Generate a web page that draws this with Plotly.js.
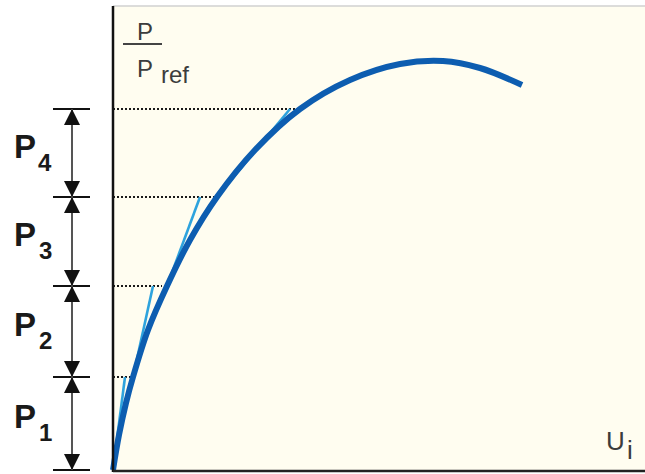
<!DOCTYPE html>
<html>
<head>
<meta charset="utf-8">
<script src="https://cdn.plot.ly/plotly-3.0.1.min.js"></script>
<style>html,body{margin:0;padding:0;background:#fff;}#chart{width:645px;height:474px;}</style>
</head>
<body>
<div id="chart"></div>
<script>
// Level boundaries of P/Pref (bottom to top)
const levels = [0, 0.93, 1.84, 2.73, 3.61];
const levelLabels = ['1', '2', '3', '4'];
// Main curve P/Pref versus U_i
const curveU = [0, 0.06, 0.13, 0.20, 0.35, 0.54, 0.77, 1.04, 1.42, 1.87, 2.37, 2.87, 3.30, 3.67, 4.09];
const curveP = [0, 0.35, 0.67, 0.93, 1.40, 1.84, 2.30, 2.73, 3.20, 3.61, 3.90, 4.06, 4.09, 4.02, 3.85];
// Where each dotted level line meets the curve (levels 1..4)
const dotEndU = [0.22, 0.49, 1.02, 1.90];
// Tangent segments: start (U,P) on curve, end U at the next level
const tanStartU = [0, 0.20, 0.54, 1.04];
const tanStartP = [0, 0.93, 1.84, 2.73];
const tanEndU = [0.12, 0.40, 0.87, 1.77];

const xMax = 5.32, yTop = 4.64;
const tickX = [-0.60, -0.23], arrowX = -0.41;
const txt = '#3c3c3c';
const fam = 'Liberation Sans, Arial, sans-serif';

const traces = [];
// dotted level lines
for (let i = 0; i < 4; i++) {
  traces.push({x: [0, dotEndU[i]], y: [levels[i+1], levels[i+1]], mode: 'lines',
    line: {color: '#1a1a1a', width: 2, dash: '2px,2px'}, hoverinfo: 'skip'});
}
// tangents
for (let i = 0; i < 4; i++) {
  traces.push({x: [tanStartU[i], tanEndU[i]], y: [tanStartP[i], levels[i+1]], mode: 'lines',
    line: {color: '#2ea3dd', width: 2.6}, hoverinfo: 'skip'});
}
// main curve
traces.push({x: curveU, y: curveP, mode: 'lines', line: {color: '#0d5db0', width: 6, shape: 'spline', smoothing: 1}, hoverinfo: 'skip'});

// left side: level ticks
const tx = [], ty = [];
levels.forEach(v => { tx.push(tickX[0], tickX[1], null); ty.push(v, v, null); });
traces.push({x: tx, y: ty, mode: 'lines', line: {color: '#111', width: 2.2}, hoverinfo: 'skip'});
// shaft
traces.push({x: [arrowX, arrowX], y: [levels[0], levels[4]], mode: 'lines', line: {color: '#555', width: 2}, hoverinfo: 'skip'});
// arrowheads
traces.push({x: levels.slice(1).map(() => arrowX), y: levels.slice(1), mode: 'markers',
  marker: {symbol: 'arrow-up', size: 16, color: '#111'}, hoverinfo: 'skip'});
traces.push({x: levels.slice(0, 4).map(() => arrowX), y: levels.slice(0, 4), mode: 'markers',
  marker: {symbol: 'arrow-down', size: 16, color: '#111'}, hoverinfo: 'skip'});

const annotations = [];
for (let i = 0; i < 4; i++) {
  const mid = (levels[i] + levels[i+1]) / 2;
  annotations.push({x: -0.885, y: mid + 0.07, xref: 'x', yref: 'y', xanchor: 'center', yanchor: 'middle',
    text: 'P', showarrow: false, font: {family: fam, size: 33, color: '#1a1a1a', weight: 'bold'}});
  annotations.push({x: -0.68, y: mid - 0.09, xref: 'x', yref: 'y', xanchor: 'center', yanchor: 'middle',
    text: levelLabels[i], showarrow: false, font: {family: fam, size: 24, color: '#1a1a1a', weight: 'bold'}});
}
const f23 = {family: fam, size: 24, color: txt};
annotations.push({x: 0.32, y: 4.39, xref: 'x', yref: 'y', text: 'P', showarrow: false, font: f23});
annotations.push({x: 0.32, y: 4.02, xref: 'x', yref: 'y', text: 'P', showarrow: false, font: f23});
annotations.push({x: 0.46, y: 3.96, xref: 'x', yref: 'y', xanchor: 'left', text: 'ref', showarrow: false, font: f23});
const f26 = {family: fam, size: 26, color: txt};
annotations.push({x: 5.02, y: 0.29, xref: 'x', yref: 'y', text: 'U', showarrow: false, font: f26});
annotations.push({x: 5.17, y: 0.20, xref: 'x', yref: 'y', text: 'i', showarrow: false, font: f26});

const shapes = [
  {type: 'rect', xref: 'x', yref: 'y', x0: 0, x1: xMax, y0: -0.01, y1: yTop, fillcolor: '#fffdf0', line: {width: 0}, layer: 'below'},
  {type: 'line', xref: 'x', yref: 'y', x0: 0, x1: xMax, y0: yTop, y1: yTop, line: {color: '#d0d0d0', width: 1.5}},
  {type: 'line', xref: 'x', yref: 'y', x0: 0, x1: 0, y0: -0.02, y1: yTop, line: {color: '#111', width: 2.5}},
  {type: 'line', xref: 'x', yref: 'y', x0: 0, x1: xMax, y0: -0.01, y1: -0.01, line: {color: '#222', width: 2.5}},
  {type: 'line', xref: 'x', yref: 'y', x0: 0.10, x1: 0.49, y0: 4.26, y1: 4.26, line: {color: '#444', width: 2}}
];

const layout = {
  width: 645, height: 474,
  margin: {l: 0, r: 0, t: 0, b: 0, pad: 0},
  paper_bgcolor: '#fff', plot_bgcolor: '#fff',
  showlegend: false,
  xaxis: {range: [-1.13, xMax], visible: false, fixedrange: true},
  yaxis: {range: [-0.04, 4.70], visible: false, fixedrange: true},
  shapes: shapes,
  annotations: annotations
};
Plotly.newPlot('chart', traces, layout, {staticPlot: true, displayModeBar: false});
</script>
</body>
</html>
